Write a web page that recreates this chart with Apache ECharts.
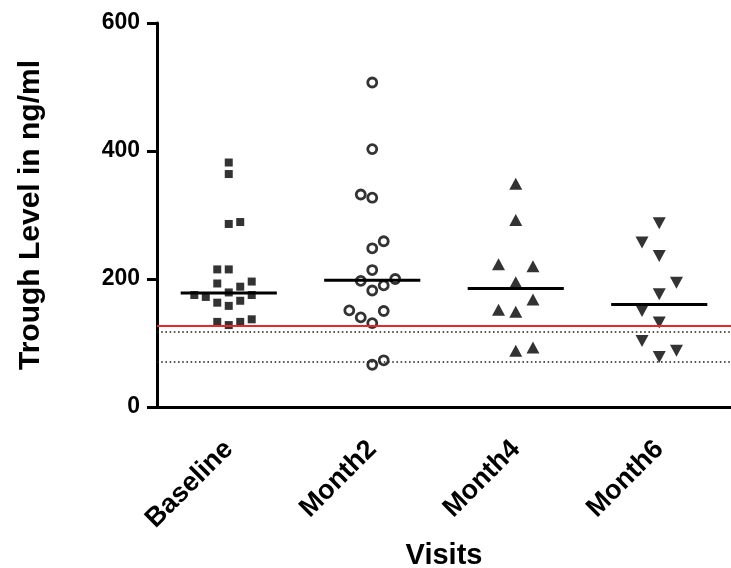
<!DOCTYPE html>
<html>
<head>
<meta charset="utf-8">
<script src="https://cdn.jsdelivr.net/npm/echarts@6/dist/echarts.min.js"></script>
<style>html,body{margin:0;padding:0;background:#fff;}#c{width:731px;height:568px;}</style>
</head>
<body>
<div id="c"></div>
<script>
const categories = ['Baseline', 'Month2', 'Month4', 'Month6'];
const yTicks = [0, 200, 400, 600];

const baselineValues = [382, 364, 286, 289, 215, 215, 193, 196, 188, 179, 175, 172, 175, 163, 158, 166, 133, 128, 133, 137];
const baselineJitter = [0, 0, 0, 1, -1, 0, -1, 2, 1, 0, -3, -2, 2, -1, 0, 1, -1, 0, 1, 2];

const month2Values = [507, 403, 332, 327, 248, 259, 214, 197, 182, 190, 200, 151, 140, 131, 150, 66, 73];
const month2Jitter = [0, 0, -1, 0, 0, 1, 0, -1, 0, 1, 2, -2, -1, 0, 1, 0, 1];

const month4Values = [349, 292, 223, 220, 195, 168, 152, 149, 88, 93];
const month4Jitter = [0, 0, -1.5, 1.5, 0, 1.5, -1.5, 0, 0, 1.5];

const month6Values = [287, 257, 236, 194, 176, 150, 132, 103, 88, 78];
const month6Jitter = [0, -1.5, 0, 1.5, 0, -1.5, 0, -1.5, 1.5, 0];

const medians = [178, 198, 185, 160];
const redLine = 127;
const dottedLines = [118, 70];

const JITTER_UNIT = 0.08;
const MEDIAN_HALF = 0.335;

function pts(values, jitter, gi) {
  return values.map((v, i) => [gi + jitter[i] * JITTER_UNIT, v]);
}

const chart = echarts.init(document.getElementById('c'), null, {renderer: 'canvas'});
const FONT = 'Liberation Sans, Arial, sans-serif';

chart.setOption({
  backgroundColor: '#ffffff',
  animation: false,
  grid: {left: 157, right: 0, top: 23, bottom: 161, containLabel: false, outerBoundsMode: 'none'},
  xAxis: [{
    type: 'category',
    data: categories,
    boundaryGap: true,
    axisLine: {onZero: false, lineStyle: {color: '#000', width: 3}},
    axisTick: {alignWithLabel: true, length: 11, lineStyle: {color: '#000', width: 3}},
    axisLabel: {rotate: 45, margin: 38, color: '#000', fontFamily: FONT, fontWeight: 'bold', fontSize: 27},
    splitLine: {show: false},
    name: 'Visits',
    nameLocation: 'middle',
    nameGap: 134,
    nameTextStyle: {color: '#000', fontFamily: FONT, fontWeight: 'bold', fontSize: 29}
  }, {
    type: 'value',
    min: -0.5,
    max: 3.5,
    show: false
  }],
  yAxis: {
    type: 'value',
    min: 0,
    max: 600,
    interval: 200,
    axisLine: {show: true, onZero: false, lineStyle: {color: '#000', width: 3}},
    axisTick: {show: true, length: 10, lineStyle: {color: '#000', width: 3}},
    axisLabel: {margin: 17, color: '#000', fontFamily: FONT, fontWeight: 'bold', fontSize: 23,
      formatter: v => yTicks.includes(v) ? String(v) : ''},
    splitLine: {show: false},
    name: 'Trough Level in ng/ml',
    nameLocation: 'middle',
    nameGap: 111,
    nameTextStyle: {color: '#000', fontFamily: FONT, fontWeight: 'bold', fontSize: 30}
  },
  series: [
    {
      type: 'scatter', xAxisIndex: 1, data: pts(baselineValues, baselineJitter, 0),
      symbol: 'rect', symbolSize: 8, itemStyle: {color: '#000'},
      markLine: {
        silent: true, symbol: 'none', label: {show: false},
        data: [
          {yAxis: redLine, lineStyle: {color: '#e8262b', width: 2, type: 'solid'}},
          ...dottedLines.map(v => ({yAxis: v, lineStyle: {color: '#222', width: 1.6, type: [1.6, 2.6]}}))
        ]
      }
    },
    {
      type: 'scatter', xAxisIndex: 1, data: pts(month2Values, month2Jitter, 1),
      symbol: 'circle', symbolSize: 9, itemStyle: {color: '#fff', borderColor: '#000', borderWidth: 2.8}
    },
    {
      type: 'scatter', xAxisIndex: 1, data: pts(month4Values, month4Jitter, 2),
      symbol: 'triangle', symbolSize: [13, 12], itemStyle: {color: '#000'}
    },
    {
      type: 'scatter', xAxisIndex: 1, data: pts(month6Values, month6Jitter, 3),
      symbol: 'triangle', symbolRotate: 180, symbolSize: [13, 12], itemStyle: {color: '#000'}
    },
    {
      type: 'custom', xAxisIndex: 1,
      data: medians.map((m, i) => [i, m]),
      renderItem: function (params, api) {
        const x = api.value(0), y = api.value(1);
        const a = api.coord([x - MEDIAN_HALF, y]);
        const b = api.coord([x + MEDIAN_HALF, y]);
        return {type: 'line', shape: {x1: a[0], y1: a[1], x2: b[0], y2: b[1]},
          style: {stroke: '#000', lineWidth: 3}};
      },
      z: 3
    }
  ]
});
</script>
</body>
</html>
